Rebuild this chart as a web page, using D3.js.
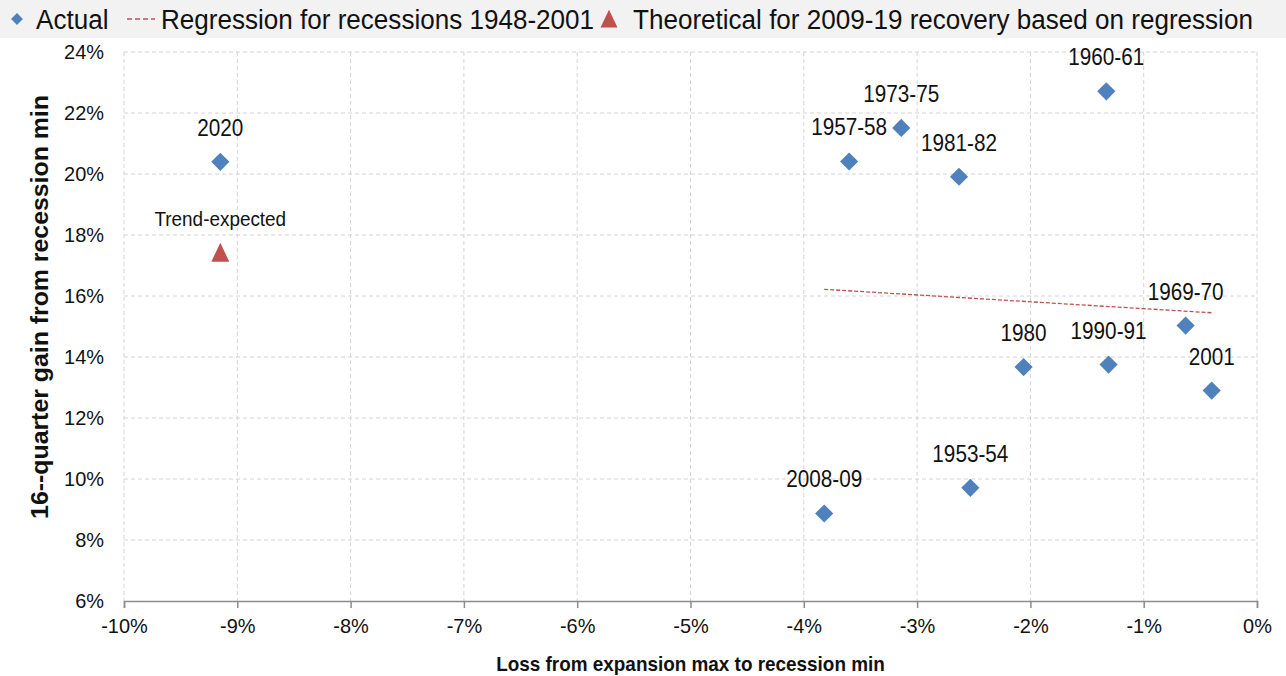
<!DOCTYPE html>
<html>
<head>
<meta charset="utf-8">
<script src="https://cdn.jsdelivr.net/npm/d3@7/dist/d3.min.js"></script>
<style>
  html, body { margin: 0; padding: 0; background: #fff; }
  svg { display: block; }
  text { font-family: "Liberation Sans", Arial, sans-serif; fill: #111; }
</style>
</head>
<body>
<div id="chart"></div>
<script>
// recession episodes: loss from expansion max (x, %) and 16-quarter gain (y, %)
const episodes = ['2020', '1957-58', '1973-75', '1981-82', '1960-61', '1969-70', '1980', '1990-91', '2001', '1953-54', '2008-09'];
const lossValues = [-9.15, -3.60, -3.14, -2.63, -1.33, -0.63, -2.06, -1.31, -0.40, -2.53, -3.82];
const gainValues = [20.40, 20.41, 21.51, 19.91, 22.71, 15.03, 13.67, 13.75, 12.90, 9.71, 8.87];

// theoretical point
const trendLabel = 'Trend-expected';
const trendLoss = [-9.15];
const trendGain = [17.42];

// regression line endpoints
const regLoss = [-3.82, -0.40];
const regGain = [16.22, 15.45];

const xTicks = [-10, -9, -8, -7, -6, -5, -4, -3, -2, -1, 0];
const yTicks = [6, 8, 10, 12, 14, 16, 18, 20, 22, 24];

const legendLabels = ['Actual', 'Regression for recessions 1948-2001', 'Theoretical for 2009-19 recovery based on regression'];

const width = 1286, height = 676;
const margin = { top: 52, right: 29, bottom: 75, left: 124 };
const blue = '#4f81bd', red = '#c0504d';

// squeeze text horizontally (the original uses a condensed face)
function condense(sel, f) {
    sel.each(function () {
        const len = this.getComputedTextLength();
        d3.select(this).attr('textLength', len * f).attr('lengthAdjust', 'spacingAndGlyphs');
    });
}

const svg = d3.select('#chart').append('svg')
    .attr('width', width)
    .attr('height', height);

const x = d3.scaleLinear().domain([-10, 0]).range([margin.left, width - margin.right]);
const y = d3.scaleLinear().domain([6, 24]).range([height - margin.bottom, margin.top]);

// legend band
svg.append('rect')
    .attr('x', 0).attr('y', 0)
    .attr('width', width).attr('height', 38)
    .attr('fill', '#f2f2f2');

// grid
const grid = svg.append('g').attr('class', 'grid');
grid.selectAll('line.h')
    .data(yTicks.filter(d => d > 6))
    .join('line')
    .attr('x1', x(-10)).attr('x2', x(0))
    .attr('y1', d => y(d)).attr('y2', d => y(d))
    .attr('stroke', '#d4d4d4').attr('stroke-dasharray', '4,3');
grid.selectAll('line.v')
    .data(xTicks)
    .join('line')
    .attr('x1', d => x(d)).attr('x2', d => x(d))
    .attr('y1', y(24)).attr('y2', y(6))
    .attr('stroke', '#d4d4d4').attr('stroke-dasharray', '4,3');

// x axis
const xAxis = svg.append('g')
    .attr('transform', `translate(0,${y(6)})`)
    .call(d3.axisBottom(x).tickValues(xTicks).tickFormat(d => d + '%').tickSize(7).tickPadding(10));
xAxis.select('.domain').attr('stroke', '#8c8c8c').attr('stroke-width', 1.5);
xAxis.selectAll('.tick line').attr('stroke', '#8c8c8c').attr('stroke-width', 1.5);
xAxis.selectAll('.tick text').style('font-size', '21px').attr('fill', '#111').call(condense, 0.95);

// y axis
const yAxis = svg.append('g')
    .attr('transform', `translate(${x(-10)},0)`)
    .call(d3.axisLeft(y).tickValues(yTicks).tickFormat(d => d + '%').tickSize(0).tickPadding(20));
yAxis.select('.domain').remove();
yAxis.selectAll('.tick text').style('font-size', '21px').attr('fill', '#111').call(condense, 0.95);

// axis titles
svg.append('text')
    .attr('x', (x(-10) + x(0)) / 2)
    .attr('y', 671)
    .attr('text-anchor', 'middle')
    .style('font-size', '21px')
    .style('font-weight', 'bold')
    .text('Loss from expansion max to recession min')
    .call(condense, 0.9);

svg.append('text')
    .attr('transform', `translate(48,307) rotate(-90)`)
    .attr('text-anchor', 'middle')
    .style('font-size', '23px')
    .style('font-weight', 'bold')
    .text('16--quarter gain from recession min')
    .call(condense, 1.08);

// regression line
svg.append('line')
    .attr('x1', x(regLoss[0])).attr('y1', y(regGain[0]))
    .attr('x2', x(regLoss[1])).attr('y2', y(regGain[1]))
    .attr('stroke', red).attr('stroke-width', 1.3)
    .attr('stroke-dasharray', '4,2');

// diamonds
const diamond = d3.symbol().type(d3.symbolSquare).size(165);
const points = episodes.map((name, i) => ({ name, lx: lossValues[i], gy: gainValues[i] }));

svg.append('g').selectAll('path')
    .data(points)
    .join('path')
    .attr('d', diamond)
    .attr('transform', d => `translate(${x(d.lx)},${y(d.gy)}) rotate(45)`)
    .attr('fill', blue);

svg.append('g').selectAll('text')
    .data(points)
    .join('text')
    .attr('x', d => x(d.lx))
    .attr('y', d => y(d.gy) - 26)
    .attr('text-anchor', 'middle')
    .style('font-size', '23px')
    .text(d => d.name)
    .call(condense, 0.9);

// triangle
const tri = (cx, cy, s) => `M${cx},${cy - s * 0.55}L${cx + s / 2},${cy + s * 0.5}L${cx - s / 2},${cy + s * 0.5}Z`;
svg.append('path')
    .attr('d', tri(x(trendLoss[0]), y(trendGain[0]), 18))
    .attr('fill', red);
svg.append('text')
    .attr('x', x(trendLoss[0]))
    .attr('y', y(trendGain[0]) - 27)
    .attr('text-anchor', 'middle')
    .style('font-size', '21px')
    .text(trendLabel)
    .call(condense, 0.9);

// legend
const lg = svg.append('g').attr('class', 'legend');
lg.append('path')
    .attr('d', d3.symbol().type(d3.symbolSquare).size(70))
    .attr('transform', 'translate(17,19) rotate(45)')
    .attr('fill', blue);
lg.append('text').attr('x', 36).attr('y', 29).style('font-size', '27px').text(legendLabels[0]).call(condense, 0.965);
lg.append('line')
    .attr('x1', 127).attr('x2', 155).attr('y1', 19).attr('y2', 19)
    .attr('stroke', red).attr('stroke-width', 1.5).attr('stroke-dasharray', '5,3');
lg.append('text').attr('x', 161).attr('y', 29).style('font-size', '27px').text(legendLabels[1]).call(condense, 0.965);
lg.append('path')
    .attr('d', tri(609, 19, 17))
    .attr('fill', red);
lg.append('text').attr('x', 633).attr('y', 29).style('font-size', '27px').text(legendLabels[2]).call(condense, 0.965);
</script>
</body>
</html>
